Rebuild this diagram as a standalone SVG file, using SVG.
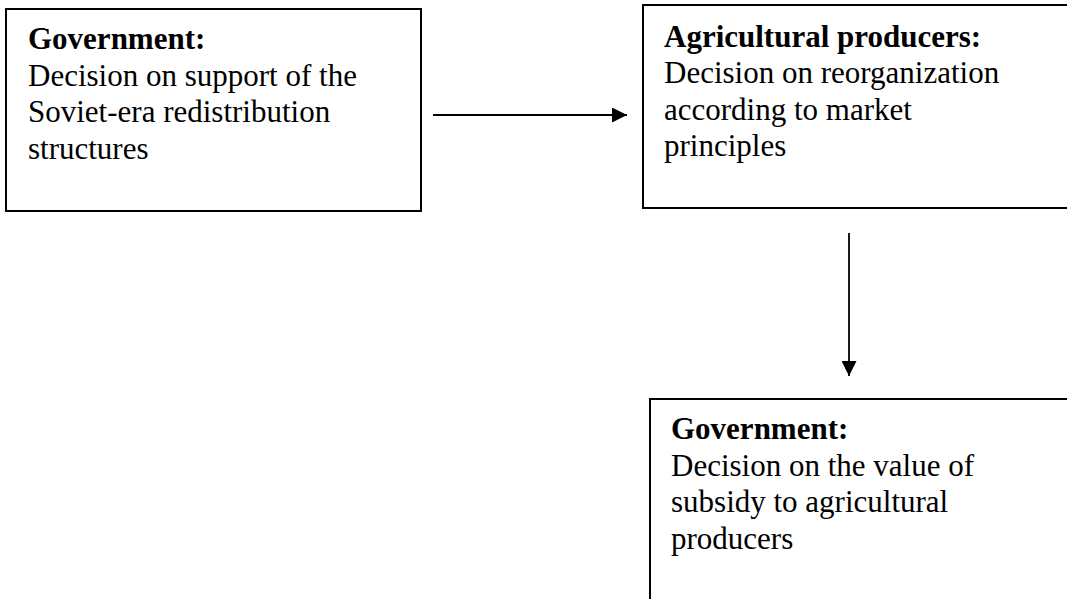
<svg xmlns="http://www.w3.org/2000/svg" width="1067" height="599" viewBox="0 0 1067 599">
  <defs>
    <style>
      .box { fill: #ffffff; stroke: #000000; stroke-width: 2; }
      .t { font-family: "Liberation Serif", "Times New Roman", serif; font-size: 31px; fill: #000000; }
      .b { font-weight: bold; }
      .conn { stroke: #000000; stroke-width: 1.8; fill: none; }
    </style>
    <marker id="arrow" viewBox="0 0 15 15" refX="15" refY="7.5" markerWidth="15" markerHeight="15" markerUnits="userSpaceOnUse" orient="auto">
      <path d="M0,0 L15,7.5 L0,15 Z" fill="#000000"/>
    </marker>
  </defs>
  <rect width="1067" height="599" fill="#ffffff"/>

  <g id="node-gov1">
    <rect class="box" x="6" y="9" width="415" height="202"/>
    <text class="t b" x="28" y="49">Government:</text>
    <text class="t" x="28" y="85.5">Decision on support of the</text>
    <text class="t" x="28" y="122">Soviet-era redistribution</text>
    <text class="t" x="28" y="158.5">structures</text>
  </g>

  <g id="node-agri">
    <rect class="box" x="643" y="5" width="440" height="203"/>
    <text class="t b" x="664" y="47">Agricultural producers:</text>
    <text class="t" x="664" y="83">Decision on reorganization</text>
    <text class="t" x="664" y="119.5">according to market</text>
    <text class="t" x="664" y="156">principles</text>
  </g>

  <g id="node-gov2">
    <rect class="box" x="650" y="399" width="440" height="220"/>
    <text class="t b" x="671" y="439">Government:</text>
    <text class="t" x="671" y="475.5">Decision on the value of</text>
    <text class="t" x="671" y="512">subsidy to agricultural</text>
    <text class="t" x="671" y="548.5">producers</text>
  </g>

  <g id="connectors">
    <line class="conn" x1="433" y1="115" x2="627" y2="115" marker-end="url(#arrow)"/>
    <line class="conn" x1="849" y1="233" x2="849" y2="376" marker-end="url(#arrow)"/>
  </g>
</svg>
